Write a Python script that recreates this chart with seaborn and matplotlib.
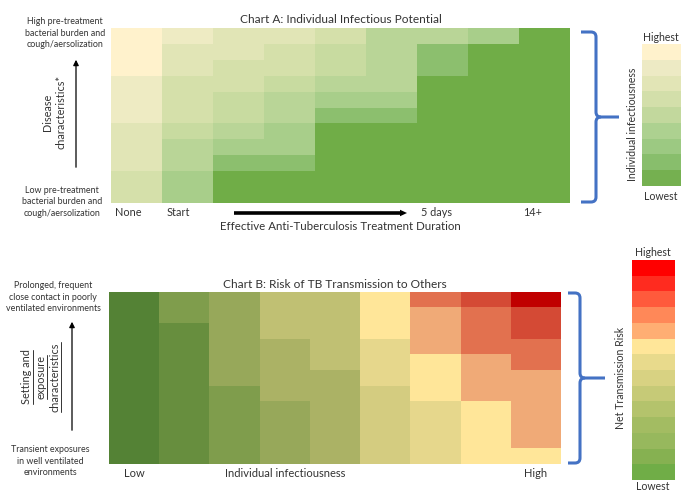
import numpy as np
import matplotlib
matplotlib.use("Agg")
import matplotlib.pyplot as plt
from matplotlib.colors import ListedColormap
from matplotlib.path import Path
from matplotlib.patches import PathPatch
import seaborn as sns

sns.set_theme(style="white")
plt.rcParams['font.family'] = ['Lato', 'DejaVu Sans']

# ---------------- Data ----------------
# Chart A: infectiousness level per cell (0 = lowest, 8 = highest), each list = one column, top row first
a_col_none  = [8, 8, 8, 7, 7, 7, 6, 6, 6, 5, 5]
a_col_start = [7, 6, 6, 5, 5, 5, 4, 3, 3, 2, 2]
a_col_2     = [6, 6, 5, 5, 4, 4, 3, 2, 1, 0, 0]
a_col_3     = [6, 5, 5, 4, 3, 3, 2, 2, 1, 0, 0]
a_col_4     = [5, 4, 4, 3, 2, 1, 0, 0, 0, 0, 0]
a_col_5     = [3, 3, 3, 3, 2, 1, 0, 0, 0, 0, 0]
a_col_6     = [3, 1, 1, 0, 0, 0, 0, 0, 0, 0, 0]
a_col_7     = [2, 0, 0, 0, 0, 0, 0, 0, 0, 0, 0]
a_col_8     = [0, 0, 0, 0, 0, 0, 0, 0, 0, 0, 0]
a_tick_cols = [0, 1, 6, 8]
a_tick_labels = ["None", "Start", "5 days", "14+"]
a_palette = ["#70AD47", "#8CBF6E", "#A8CE8A", "#B9D597", "#C8DBA0",
             "#D5E0AA", "#E1E5B6", "#EEEBC3", "#FFF2CC"]
a_legend_levels = [8, 7, 6, 5, 4, 3, 2, 1, 0]
a_legend_palette = ["#75B050", "#88BE6C", "#9CC982", "#ADD190", "#C2D89D",
                    "#D3DFAA", "#E2E5B6", "#EDEAC4", "#FFF2CC"]

# Chart B: transmission risk level per cell (0 = lowest, 12 = highest), each list = one column, top row first
b_col_0 = [0, 0, 0, 0, 0, 0, 0, 0, 0, 0, 0]
b_col_1 = [2, 2, 1, 1, 1, 1, 1, 1, 1, 1, 1]
b_col_2 = [3, 3, 3, 3, 3, 3, 2, 2, 2, 2, 2]
b_col_3 = [5, 5, 5, 4, 4, 4, 4, 3, 3, 3, 3]
b_col_4 = [5, 5, 5, 5, 5, 4, 4, 4, 4, 4, 4]
b_col_5 = [8, 8, 8, 7, 7, 7, 6, 6, 6, 6, 6]
b_col_6 = [10, 9, 9, 9, 8, 8, 8, 7, 7, 7, 7]
b_col_7 = [11, 10, 10, 10, 9, 9, 9, 8, 8, 8, 8]
b_col_8 = [12, 11, 11, 10, 10, 9, 9, 9, 9, 9, 8]
b_tick_cols = [0, 3, 8]
b_tick_labels = ["Low", "Individual infectiousness", "High"]
b_palette = ["#548235", "#678E3E", "#7F9D4C", "#97A85A", "#ABB265", "#C0C073",
             "#D4CC80", "#E6D78C", "#FFE699", "#F0AA77", "#E2714F", "#D44A35", "#C00000"]
b_legend_levels = list(range(13, -1, -1))
b_legend_palette = ["#70AD47", "#86B151", "#97B85D", "#A3BC62", "#B4C36C", "#C6CA77",
                    "#D8D282", "#E8DA8C", "#FFE699", "#FFAE73", "#FF8858", "#FF5A3C",
                    "#FF2B1F", "#FF0000"]

TXT = "#333333"
BLUE = "#4472C4"
W, H = 681, 491

def rect(x0, y0, x1, y1):
    return [x0 / W, 1 - y1 / H, (x1 - x0) / W, (y1 - y0) / H]

fig = plt.figure(figsize=(W / 100, H / 100), dpi=100)
fig.patch.set_facecolor("white")

# ---------------- Chart A ----------------
matA = np.array([a_col_none, a_col_start, a_col_2, a_col_3, a_col_4,
                 a_col_5, a_col_6, a_col_7, a_col_8]).T
axA = fig.add_axes(rect(111, 28, 570, 203))
sns.heatmap(matA, cmap=ListedColormap(a_palette), vmin=-0.5, vmax=len(a_palette) - 0.5,
            cbar=False, ax=axA, xticklabels=False, yticklabels=False)
axA.set_xticks([c + 0.08 for c in a_tick_cols])
axA.set_xticklabels(a_tick_labels, ha="left", fontsize=7.8, color=TXT)
axA.tick_params(axis="x", length=0, pad=3)
axA.set_yticks([])
axA.set_title("Chart A: Individual Infectious Potential", fontsize=8.6, color=TXT, pad=3.5)

# Legend A
axLA = fig.add_axes(rect(642, 44, 695, 186))
sns.heatmap(np.array(a_legend_levels)[:, None], cmap=ListedColormap(a_legend_palette),
            vmin=-0.5, vmax=len(a_legend_palette) - 0.5, cbar=False, ax=axLA,
            xticklabels=False, yticklabels=False)

# ---------------- Chart B ----------------
matB = np.array([b_col_0, b_col_1, b_col_2, b_col_3, b_col_4,
                 b_col_5, b_col_6, b_col_7, b_col_8]).T
axB = fig.add_axes(rect(109, 291.7, 561, 464))
sns.heatmap(matB, cmap=ListedColormap(b_palette), vmin=-0.5, vmax=len(b_palette) - 0.5,
            cbar=False, ax=axB, xticklabels=False, yticklabels=False)
axB.set_xticks([c + 0.5 for c in b_tick_cols])
axB.set_xticklabels(b_tick_labels, ha="center", fontsize=8, color=TXT)
axB.tick_params(axis="x", length=0, pad=3)
axB.set_yticks([])
axB.set_title("Chart B: Risk of TB Transmission to Others", fontsize=8.6, color=TXT, pad=3)

# Legend B
axLB = fig.add_axes(rect(632, 260, 675, 480))
sns.heatmap(np.array(b_legend_levels)[:, None], cmap=ListedColormap(b_legend_palette),
            vmin=-0.5, vmax=len(b_legend_palette) - 0.5, cbar=False, ax=axLB,
            xticklabels=False, yticklabels=False)

# ---------------- Overlay annotations ----------------
ov = fig.add_axes([0, 0, 1, 1], zorder=10)
ov.set_xlim(0, W)
ov.set_ylim(H, 0)
ov.axis("off")
ov.patch.set_alpha(0)

def txt(x, y, s, size=7.5, rot=0, **kw):
    return ov.text(x, y, s, fontsize=size, color=TXT, ha="center", va="center",
                   rotation=rot, multialignment="center", **kw)

# Chart A texts
txt(65, 33, "High pre-treatment\nbacterial burden and\ncough/aersolization", size=6.4, linespacing=1.3)
txt(62, 202, "Low pre-treatment\nbacterial burden and\ncough/aersolization", size=6.4, linespacing=1.3)
txt(54, 112, "Disease\ncharacteristics*", size=7.8, rot=90, linespacing=1.3)
txt(340, 227, "Effective Anti-Tuberculosis Treatment Duration", size=8.3)
txt(632, 124, "Individual infectiousness", size=7.6, rot=90)
txt(661, 37, "Highest", size=7.6)
txt(661, 196, "Lowest", size=7.6)

ov.annotate("", xy=(76, 57), xytext=(76, 170),
            arrowprops=dict(arrowstyle="-|>", color="black", lw=0.9, mutation_scale=8))
ov.arrow(234, 213, 173, 0, width=3.6, head_width=6.5, head_length=7,
         length_includes_head=True, color="black", lw=0)

# Chart B texts
txt(53, 297, "Prolonged, frequent\nclose contact in poorly\nventilated environments", size=6.4, linespacing=1.3)
txt(50, 461, "Transient exposures\nin well ventilated\nenvironments", size=6.4, linespacing=1.3)
rot_lines = [(27, "Setting and"), (41, "exposure"), (55, "characteristics")]
rot_texts = [txt(x, 377, s, size=7.8, rot=90) for x, s in rot_lines]
txt(620, 378, "Net Transmission Risk", size=7.6, rot=90)
txt(653, 252, "Highest", size=7.6)
txt(653, 487, "Lowest", size=7.6)

ov.annotate("", xy=(72, 319), xytext=(72, 433),
            arrowprops=dict(arrowstyle="-|>", color="black", lw=0.9, mutation_scale=8))

# underline the rotated labels
fig.canvas.draw()
inv = ov.transData.inverted()
for t in rot_texts:
    bb = t.get_window_extent()
    (x0, y0), (x1, y1) = inv.transform([[bb.x0, bb.y0], [bb.x1, bb.y1]])
    ov.plot([x1 + 0.5, x1 + 0.5], [y0, y1], color=TXT, lw=0.7)

# Blue curly brackets
def bracket(xl, xv, yt, yb, ym, xt, r=5):
    verts = [(xl, yt), (xv - r, yt), (xv, yt), (xv, yt + r), (xv, ym - r), (xv, ym), (xv + r, ym), (xt, ym)]
    codes = [Path.MOVETO, Path.LINETO, Path.CURVE3, Path.CURVE3, Path.LINETO, Path.CURVE3, Path.CURVE3, Path.LINETO]
    verts2 = [(xl, yb), (xv - r, yb), (xv, yb), (xv, yb - r), (xv, ym + r), (xv, ym), (xv + r, ym)]
    codes2 = [Path.MOVETO, Path.LINETO, Path.CURVE3, Path.CURVE3, Path.LINETO, Path.CURVE3, Path.CURVE3]
    for v, c in ((verts, codes), (verts2, codes2)):
        ov.add_patch(PathPatch(Path(v, c), fill=False, edgecolor=BLUE, lw=2.2,
                               capstyle="butt", joinstyle="round"))

bracket(581, 596, 32, 202, 117, 619)
bracket(568, 580, 293, 463, 378, 605)

fig.savefig("out.png", dpi=100, facecolor="white")
